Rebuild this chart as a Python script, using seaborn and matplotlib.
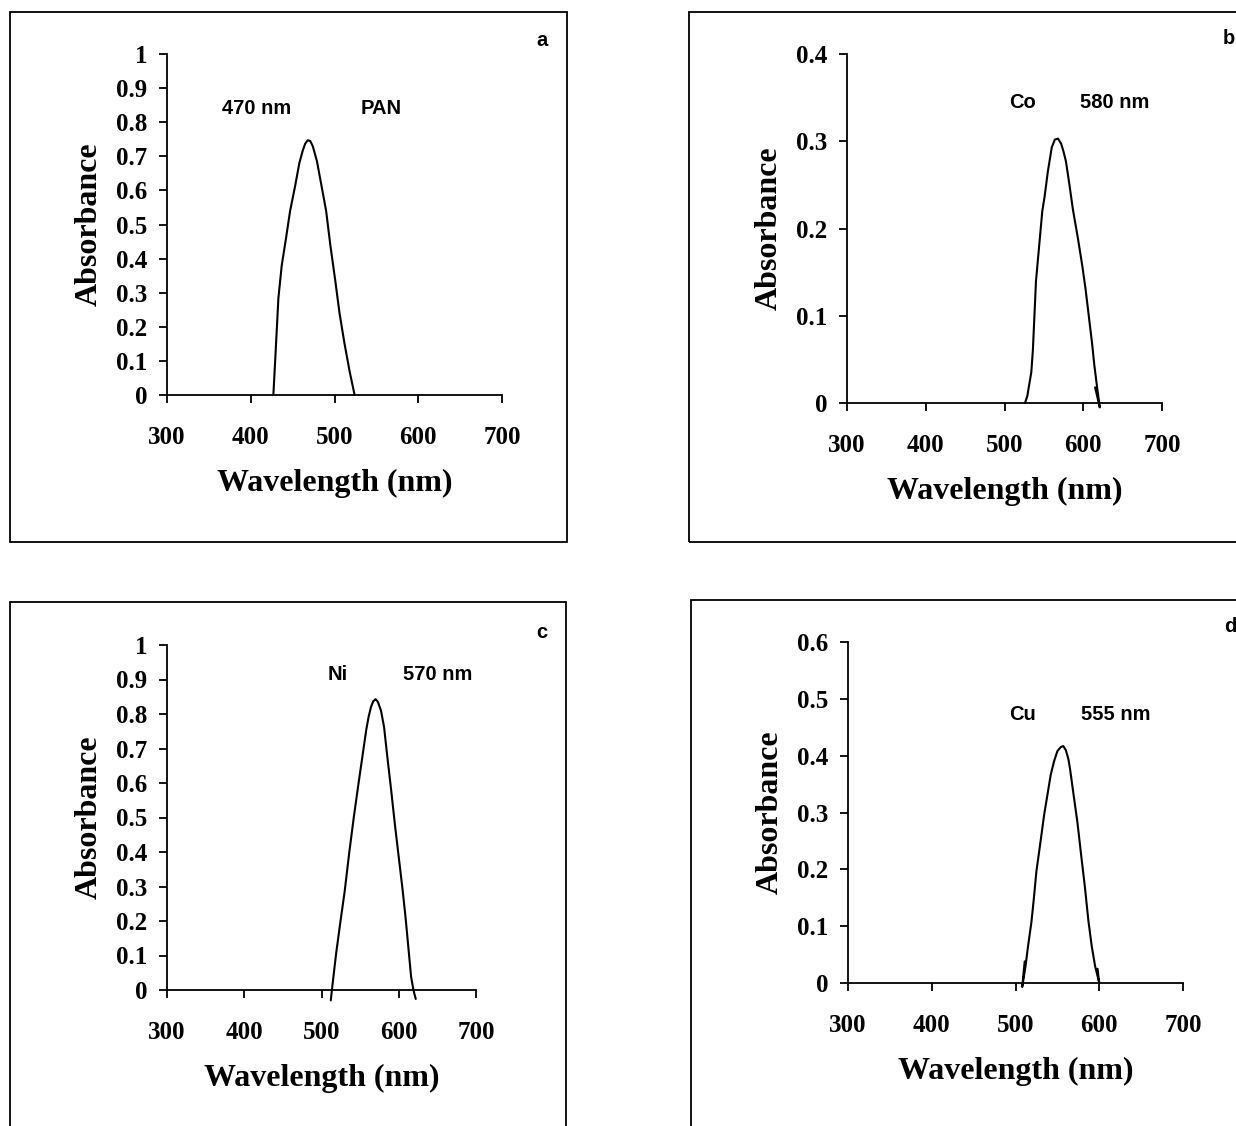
import numpy as np
import pandas as pd
import matplotlib
matplotlib.use("Agg")
import matplotlib.pyplot as plt
import seaborn as sns
from matplotlib.patches import Rectangle
from matplotlib.ticker import FuncFormatter

# spectra: wavelength (nm) / absorbance
pan_wl = [427, 430, 433, 437, 442, 447, 453, 458, 462, 465, 468, 471, 474, 479,
          484, 490, 495, 501, 506, 512, 518, 524]
pan_abs = [0.0, 0.14, 0.284, 0.38, 0.458, 0.54, 0.613, 0.68, 0.716, 0.737, 0.747,
           0.745, 0.73, 0.686, 0.62, 0.54, 0.44, 0.334, 0.24, 0.15, 0.07, 0.0]

co_wl = [526, 529, 531, 534, 536, 538, 540, 544, 548, 551, 555, 560, 564, 568, 572,
         575, 578, 582, 587, 593, 599, 603, 607, 611, 614, 618, 621, 615]
co_abs = [0.0, 0.008, 0.019, 0.035, 0.06, 0.1, 0.14, 0.18, 0.22, 0.237, 0.265, 0.293,
          0.302, 0.303, 0.297, 0.288, 0.277, 0.253, 0.221, 0.19, 0.156, 0.13, 0.1,
          0.07, 0.044, 0.015, -0.005, 0.018]

ni_wl = [512, 515, 519, 524, 530, 536, 542, 548, 554, 558, 561, 564, 567, 570, 573,
         577, 581, 585, 590, 595, 600, 605, 609, 613, 616, 619, 622]
ni_abs = [-0.03, 0.03, 0.107, 0.19, 0.286, 0.4, 0.504, 0.6, 0.693, 0.755, 0.792, 0.82,
          0.837, 0.843, 0.835, 0.81, 0.762, 0.68, 0.583, 0.48, 0.385, 0.29, 0.206,
          0.11, 0.038, 0.0, -0.026]

cu_wl = [511, 508, 512, 515, 519, 522, 525, 530, 534, 538, 542, 546, 550, 554, 557,
         560, 563, 565, 569, 574, 578, 583, 587, 591, 595, 600, 598]
cu_abs = [0.038, -0.007, 0.03, 0.065, 0.107, 0.15, 0.197, 0.25, 0.294, 0.33, 0.366,
          0.39, 0.408, 0.415, 0.417, 0.41, 0.395, 0.378, 0.335, 0.282, 0.23, 0.167,
          0.11, 0.065, 0.03, 0.0, 0.025]

panel_letters = ["a", "b", "c", "d"]
species = ["PAN", "Co", "Ni", "Cu"]
peak_labels = ["470 nm", "580 nm", "570 nm", "555 nm"]
y_max = [1.0, 0.4, 1.0, 0.6]
x_ticks = [300, 400, 500, 600, 700]

sns.set_style("ticks")
plt.rcParams["font.family"] = ["Liberation Serif", "DejaVu Serif"]
plt.rcParams["font.weight"] = "bold"
plt.rcParams["axes.linewidth"] = 1.3
for k in ["text.color", "axes.labelcolor", "xtick.color", "ytick.color", "axes.edgecolor"]:
    plt.rcParams[k] = "black"

W, H = 1236, 1126
fig = plt.figure(figsize=(W / 100, H / 100), dpi=100)


def px(x, y):
    return x / W, 1 - y / H


# layout in pixels: axes (left, top, right, bottom), frame box, text spots
layout = [
    dict(ax=(167, 54, 502, 395), box=(10, 12, 567, 542),
         sp=(381, 108), pk=(257, 108), letter=(542, 40)),
    dict(ax=(847, 54, 1162, 403), box=(689, 12, 1260, 542),
         sp=(1022, 102), pk=(1115, 102), letter=(1229, 38)),
    dict(ax=(167, 645, 476, 990), box=(10, 602, 566, 1150),
         sp=(338, 674), pk=(438, 674), letter=(542, 632)),
    dict(ax=(848, 642, 1183, 983), box=(691, 600, 1260, 1150),
         sp=(1022, 715), pk=(1116, 715), letter=(1230, 627)),
]

spectra = [(pan_wl, pan_abs), (co_wl, co_abs), (ni_wl, ni_abs), (cu_wl, cu_abs)]

for i, (wl, ab) in enumerate(spectra):
    lay = layout[i]
    l, t, r, b = lay["ax"]
    ax = fig.add_axes([l / W, 1 - b / H, (r - l) / W, (b - t) / H])
    df = pd.DataFrame({"wavelength": wl, "absorbance": ab})
    sns.lineplot(data=df, x="wavelength", y="absorbance", ax=ax, sort=False,
                 estimator=None, color="black", linewidth=1.5, clip_on=False)
    ax.set_xlim(300, 700)
    ax.set_ylim(0, y_max[i])
    ax.set_xticks(x_ticks)
    ax.set_yticks(np.round(np.arange(0, y_max[i] + 0.001, 0.1), 1))
    ax.yaxis.set_major_formatter(FuncFormatter(lambda v, p: f"{v:g}"))
    sns.despine(ax=ax)
    ax.tick_params(direction="out", length=6, width=1.3, labelsize=18)
    ax.tick_params(axis="x", pad=16)
    ax.tick_params(axis="y", pad=8)
    ax.set_xlabel("Wavelength (nm)", fontsize=23, fontweight="bold", labelpad=15)
    ax.set_ylabel("Absorbance", fontsize=23, fontweight="bold", labelpad=9)
    ax.set_facecolor("none")

    # annotations and panel letter
    for key, txt in (("sp", species[i]), ("pk", peak_labels[i]), ("letter", panel_letters[i])):
        fig.text(*px(*lay[key]), txt, ha="center", va="center", fontsize=14.5,
                 fontweight="bold", color="black",
                 family=["Liberation Sans", "DejaVu Sans"])

    # frame around each panel
    x0, y0, x1, y1 = lay["box"]
    fig.patches.append(Rectangle(px(x0, y1), (x1 - x0) / W, (y1 - y0) / H,
                                 transform=fig.transFigure, fill=False,
                                 edgecolor="black", linewidth=1.3))

fig.savefig("out.png", dpi=100, facecolor="white")
